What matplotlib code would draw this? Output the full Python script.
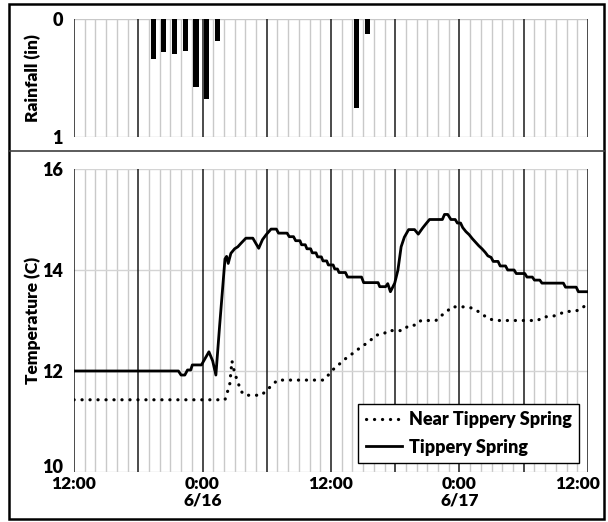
import numpy as np
import matplotlib.pyplot as plt
from matplotlib.patches import Rectangle
from matplotlib.lines import Line2D
from matplotlib.transforms import ScaledTranslation

plt.rcParams['font.family'] = ['Lato', 'DejaVu Sans']
plt.rcParams['font.weight'] = 'heavy'
plt.rcParams['axes.labelweight'] = 'heavy'

# hours after 12:00 on 6/15
rain_hours = [7, 8, 9, 10, 11, 12, 13, 26, 27]
rain_in = [0.34, 0.28, 0.30, 0.275, 0.58, 0.675, 0.19, 0.75, 0.13]

near_hours = [0, 14.1, 14.35, 14.55, 14.75, 14.9, 15.1, 15.35, 15.6, 15.95, 17.5,
              18.0, 18.5, 19.0, 23.3, 23.75, 24.2, 24.7, 25.15, 25.7, 26.25, 26.7,
              27.2, 27.7, 28.2, 28.9, 29.3, 30.7, 31.25, 31.95, 32.4, 33.8, 34.25,
              34.8, 35.25, 36.6, 37.3, 37.95, 38.75, 39.5, 43.3, 43.8, 44.6, 45.2,
              45.85, 46.6, 47.25, 47.7, 48]
near_temp = [11.43, 11.43, 11.6, 11.75, 12.2, 12.05, 11.9, 11.75, 11.6, 11.52, 11.52,
             11.62, 11.72, 11.82, 11.82, 11.92, 12.03, 12.12, 12.21, 12.3, 12.38, 12.46,
             12.53, 12.61, 12.71, 12.73, 12.8, 12.8, 12.9, 12.91, 13.0, 13.0, 13.09,
             13.17, 13.27, 13.27, 13.24, 13.15, 13.03, 13.0, 13.0, 13.07, 13.08, 13.11,
             13.18, 13.18, 13.21, 13.29, 13.34]

spring_hours = [0, 9.75, 10.0, 10.35, 10.6, 10.9, 11.05, 11.9, 12.6, 12.95, 13.25, 13.6,
                14.1, 14.25, 14.4, 14.65, 15.0, 15.3, 15.6, 16.05, 16.7, 17.25, 17.6,
                17.95, 18.4, 18.9, 19.1, 19.9, 20.1, 20.5, 20.7, 21.1, 21.25, 21.6,
                21.75, 22.1, 22.25, 22.6, 22.75, 23.1, 23.25, 23.6, 23.75, 24.2, 24.35,
                24.6, 24.75, 25.35, 25.55, 26.85, 27.05, 28.4, 28.55, 29.1, 29.3, 29.55,
                29.95, 30.25, 30.55, 30.85, 31.25, 31.8, 32.15, 32.55, 32.85, 33.2, 34.4,
                34.6, 34.9, 35.2, 35.6, 35.8, 36.1, 36.3, 36.6, 36.9, 37.2, 37.5, 37.8,
                38.1, 38.4, 38.65, 38.95, 39.15, 39.6, 39.8, 40.3, 40.5, 41.1, 41.3,
                42.1, 42.3, 42.8, 43.0, 43.5, 43.7, 45.7, 45.9, 46.9, 47.1, 48.0]
spring_temp = [12.0, 12.0, 11.92, 11.92, 12.02, 12.02, 12.12, 12.12, 12.38, 12.2, 11.92, 12.9,
               14.22, 14.27, 14.13, 14.33, 14.42, 14.46, 14.53, 14.63, 14.63, 14.43, 14.6,
               14.7, 14.81, 14.81, 14.73, 14.73, 14.66, 14.66, 14.58, 14.58, 14.5, 14.5,
               14.42, 14.42, 14.34, 14.34, 14.26, 14.26, 14.18, 14.18, 14.1, 14.1, 14.02,
               14.02, 13.95, 13.95, 13.86, 13.86, 13.75, 13.75, 13.67, 13.67, 13.73, 13.57,
               13.74, 14.0, 14.46, 14.65, 14.8, 14.8, 14.71, 14.83, 14.91, 15.0, 15.0,
               15.1, 15.1, 15.0, 15.0, 14.93, 14.93, 14.84, 14.76, 14.7, 14.62, 14.55, 14.48,
               14.42, 14.35, 14.28, 14.25, 14.17, 14.17, 14.08, 14.08, 14.0, 14.0, 13.93,
               13.93, 13.86, 13.86, 13.8, 13.8, 13.74, 13.74, 13.66, 13.66, 13.57, 13.57]

xtick_pos = [0, 12, 24, 36, 48]
xtick_labels = ['12:00', '0:00\n6/16', '12:00', '0:00\n6/17', '12:00']

W, H = 608, 522
fig = plt.figure(figsize=(W / 100, H / 100), dpi=100)
ax1 = fig.add_axes([74 / W, 1 - 137 / H, 514 / W, 118 / H])
ax2 = fig.add_axes([74 / W, 1 - 472 / H, 514 / W, 303 / H])


def time_grid(ax):
    for h in range(49):
        if h % 6 == 0:
            ax.axvline(h, color='#1a1a1a', lw=1.1, zorder=1)
        else:
            ax.axvline(h, color='#c9c9c9', lw=1.0, zorder=0)
    for s in ax.spines.values():
        s.set_visible(False)
    ax.tick_params(length=0, labelsize=13)
    ax.set_xlim(0, 48)


def nudge(label, dx_px, dy_px):
    label.set_transform(label.get_transform() +
                        ScaledTranslation(dx_px / 100, dy_px / 100, fig.dpi_scale_trans))


# rainfall panel
time_grid(ax1)
ax1.bar(np.array(rain_hours) + 0.15, rain_in, width=0.48, align='edge',
        color='black', zorder=3)
ax1.set_ylim(1, 0)
ax1.set_yticks([0, 1])
ax1.set_xticks([])
for v in [0, 1]:
    ax1.axhline(v, color='#c9c9c9', lw=1.0, zorder=0)
ax1.tick_params(axis='y', pad=8)
ax1.set_ylabel('Rainfall (in)', fontsize=12.5)
ax1.yaxis.set_label_coords(-0.064, 0.5)

# temperature panel
time_grid(ax2)
for v in [10, 12, 14, 16]:
    ax2.axhline(v, color='#d4d4d4', lw=1.0, zorder=0)
ax2.plot(near_hours, near_temp, color='black', lw=2.3,
         linestyle=(0, (0.05, 2.45)), dash_capstyle='round',
         label='Near Tippery Spring', zorder=3)
ax2.plot(spring_hours, spring_temp, color='black', lw=2.0,
         label='Tippery Spring', zorder=3)
ax2.set_ylim(10, 16)
ax2.set_yticks([10, 12, 14, 16])
ax2.set_xticks(xtick_pos)
ax2.set_xticklabels(xtick_labels, linespacing=1.05)
ax2.tick_params(axis='y', pad=8)
ax2.tick_params(axis='x', pad=3, labelsize=12.5)
ax2.set_ylabel('Temperature (C)', fontsize=12.5)
ax2.yaxis.set_label_coords(-0.064, 0.5)

# keep the end labels clear of each other and of the frame
nudge(ax2.get_yticklabels()[0], 0, 6)
nudge(ax2.get_xticklabels()[-1], -10, 0)

leg = ax2.legend(loc='lower right', bbox_to_anchor=(0.9825, 0.03),
                 borderaxespad=0, fancybox=False, framealpha=1,
                 edgecolor='black', fontsize=13, handlelength=2.0,
                 handletextpad=0.4, labelspacing=0.6, borderpad=0.4)
leg.get_frame().set_linewidth(1.0)
leg.set_zorder(5)

# chart frames
fig.patches.append(Rectangle((9 / W, 3 / H), 595 / W, 515 / H,
                             transform=fig.transFigure, fill=False,
                             lw=1.8, ec='black'))
fig.add_artist(Line2D([9 / W, 604 / W], [1 - 151 / H] * 2,
                      transform=fig.transFigure, color='#404040', lw=1.2))

plt.savefig('out.png', dpi=100)
